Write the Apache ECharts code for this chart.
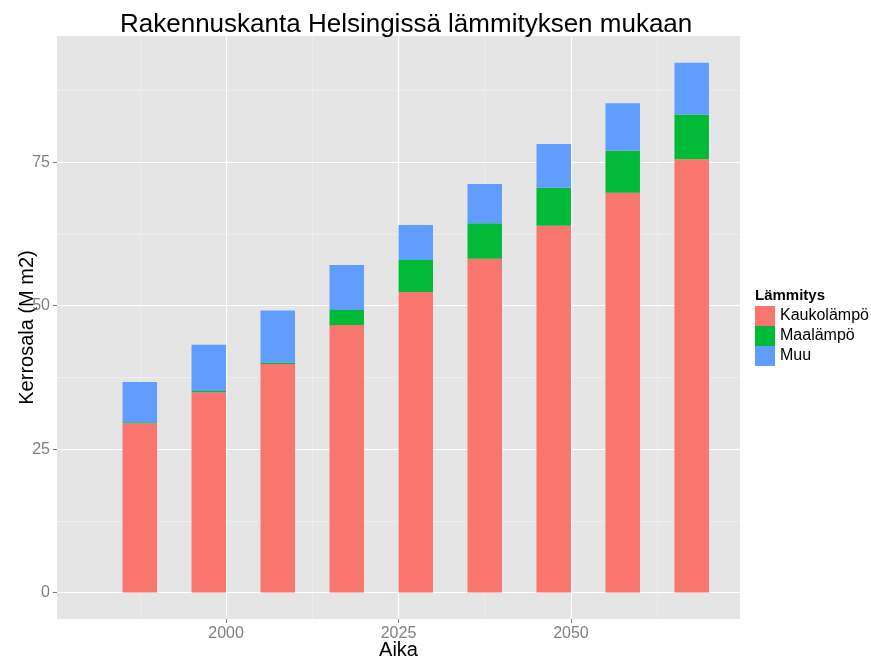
<!DOCTYPE html>
<html>
<head>
<meta charset="utf-8">
<script src="https://cdn.jsdelivr.net/npm/echarts@6/dist/echarts.min.js"></script>
<style>
  html, body { margin: 0; background: #fff; }
  #chart { width: 871px; height: 660px; }
</style>
</head>
<body>
<div id="chart"></div>
<script>
// pylväiden paikat x-akselilla (vuosi)
const vuodet = [1987.5, 1997.5, 2007.5, 2017.5, 2027.5, 2037.5, 2047.5, 2057.5, 2067.5]
// kerrosala M m2 lämmitystavoittain
const kaukolampo = [29.5, 34.9, 39.85, 46.65, 52.4, 58.2, 63.95, 69.7, 75.5]
const maalampo = [0.2, 0.25, 0.23, 2.6, 5.57, 6.17, 6.62, 7.32, 7.84]
const muu = [7.0, 8.05, 9.1, 7.85, 6.1, 6.85, 7.6, 8.26, 9.0]

const xTicks = [2000, 2025, 2050]
const xMinor = [1987.5, 2012.5, 2037.5, 2062.5]
const yTicks = [0, 25, 50, 75]
const yMinor = [12.5, 37.5, 62.5, 87.5]

const colors = {
  'Kaukolämpö': '#F8766D',
  'Maalämpö': '#00BA38',
  'Muu': '#619CFF'
}

const font = '"Liberation Sans", Arial, sans-serif'
const chart = echarts.init(document.getElementById('chart'))

// pinotaan itse: jokaiselle pylvään osalle [vuosi, alku, loppu]
const pohja = vuodet.map(() => 0)
const pinoa = vals => vals.map((v, i) => {
  const alku = pohja[i]
  pohja[i] = alku + v
  return [vuodet[i], alku, pohja[i]]
})

// pylvään leveys vuosina (ggplot width)
const leveys = 5

const renderBar = (params, api) => {
  const x = api.value(0)
  const p0 = api.coord([x, api.value(1)])
  const p1 = api.coord([x, api.value(2)])
  const w = api.size([leveys, 0])[0]
  return {
    type: 'rect',
    shape: { x: p0[0] - w / 2, y: p1[1], width: w, height: p0[1] - p1[1] },
    style: api.style()
  }
}

const barSeries = (name, vals) => ({
  name: name,
  type: 'custom',
  renderItem: renderBar,
  encode: { x: 0, y: [1, 2] },
  data: pinoa(vals),
  itemStyle: { color: colors[name] },
  emphasis: { disabled: true },
  z: 3
})

const hiddenAxis = {
  axisLine: { show: false, onZero: false },
  axisLabel: { show: false }
}

const option = {
  animation: false,
  textStyle: { fontFamily: font },
  title: [
    {
      text: 'Rakennuskanta Helsingissä lämmityksen mukaan',
      left: 120,
      top: 12,
      padding: 0,
      textStyle: { fontSize: 26, fontWeight: 'normal', color: '#000', fontFamily: font }
    },
    {
      text: 'Lämmitys',
      left: 755,
      top: 288,
      padding: 0,
      textStyle: { fontSize: 15, fontWeight: 'bold', color: '#000', fontFamily: font }
    }
  ],
  legend: {
    orient: 'vertical',
    left: 755,
    top: 306,
    padding: 0,
    itemWidth: 20,
    itemHeight: 20,
    itemGap: 0,
    icon: 'rect',
    selectedMode: false,
    textStyle: { fontSize: 16, color: '#000', fontFamily: font },
    data: ['Kaukolämpö', 'Maalämpö', 'Muu']
  },
  grid: {
    left: 57,
    right: 131,
    top: 36,
    bottom: 41,
    outerBoundsMode: 'none',
    containLabel: false,
    show: true,
    backgroundColor: '#E5E5E5',
    borderWidth: 0
  },
  xAxis: [
    {
      type: 'value',
      min: 1975.5,
      max: 2074.5,
      position: 'bottom',
      name: 'Aika',
      nameLocation: 'middle',
      nameGap: 21,
      nameMoveOverlap: false,
      nameTextStyle: { fontSize: 20, color: '#000', fontFamily: font },
      axisLine: { show: false, onZero: false },
      axisTick: { show: true, length: 4, customValues: xTicks, lineStyle: { color: '#7F7F7F' } },
      axisLabel: { customValues: xTicks, fontSize: 16, color: '#7F7F7F', margin: 7, formatter: v => String(v) },
      splitLine: { show: true, lineStyle: { color: '#FFFFFF', width: 1.2 } }
    },
    {
      type: 'value',
      min: 1975.5,
      max: 2074.5,
      position: 'bottom',
      ...hiddenAxis,
      axisTick: { show: false, customValues: xMinor },
      splitLine: { show: true, lineStyle: { color: '#F2F2F2', width: 0.6 } }
    }
  ],
  yAxis: [
    {
      type: 'value',
      min: -4.6,
      max: 97.0,
      name: 'Kerrosala (M m2)',
      nameLocation: 'middle',
      nameGap: 20,
      nameMoveOverlap: false,
      nameTextStyle: { fontSize: 20, color: '#000', fontFamily: font },
      axisLine: { show: false, onZero: false },
      axisTick: { show: true, length: 4, customValues: yTicks, lineStyle: { color: '#7F7F7F' } },
      axisLabel: { customValues: yTicks, fontSize: 16, color: '#7F7F7F', margin: 7, formatter: v => String(v) },
      splitLine: { show: true, lineStyle: { color: '#FFFFFF', width: 1.2 } }
    },
    {
      type: 'value',
      min: -4.6,
      max: 97.0,
      position: 'left',
      ...hiddenAxis,
      axisTick: { show: false, customValues: yMinor },
      splitLine: { show: true, lineStyle: { color: '#F2F2F2', width: 0.6 } }
    }
  ],
  series: [
    barSeries('Kaukolämpö', kaukolampo),
    barSeries('Maalämpö', maalampo),
    barSeries('Muu', muu)
  ]
}

chart.setOption(option)
</script>
</body>
</html>
